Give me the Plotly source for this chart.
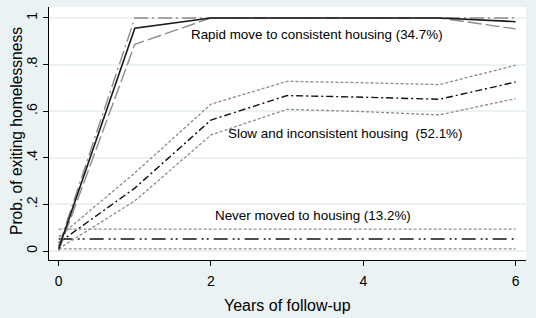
import plotly.graph_objects as go

years = [0, 1, 2, 3, 4, 5, 6]

rapid_mean = [0.01, 0.956, 1.0, 1.0, 1.0, 1.0, 0.984]
rapid_low = [0.0, 0.887, 1.0, 1.0, 1.0, 1.0, 0.953]
rapid_high = [0.02, 1.0, 1.0, 1.0, 1.0, 1.0, 1.0]

slow_mean = [0.035, 0.27, 0.562, 0.667, 0.66, 0.651, 0.725]
slow_low = [0.01, 0.215, 0.498, 0.608, 0.598, 0.584, 0.654]
slow_high = [0.06, 0.335, 0.63, 0.728, 0.722, 0.714, 0.797]

never_mean = [0.052] * 7
never_low = [0.009] * 7
never_high = [0.094] * 7

labels = ["Rapid move to consistent housing (34.7%)",
          "Slow and inconsistent housing  (52.1%)",
          "Never moved to housing (13.2%)"]
label_x = [1.71, 2.197, 2.026]
label_y = [0.927, 0.506, 0.1545]

x_ticks = [0, 2, 4, 6]
y_ticks = [0, 0.2, 0.4, 0.6, 0.8, 1]
y_ticktext = ["0", ".2", ".4", ".6", ".8", "1"]

x_title = "Years of follow-up"
y_title = "Prob. of exiting homelessness"

GRAY = "#8c8c8c"
fig = go.Figure()

def add(y, color, dash, width=1.3):
    fig.add_trace(go.Scatter(x=years, y=y, mode="lines",
                             line=dict(color=color, dash=dash, width=width),
                             showlegend=False, hoverinfo="skip"))

# Never
add(never_high, GRAY, "3px,2px")
add(never_low, GRAY, "3px,2px")
add(never_mean, "#111111", "14px,5px,2px,3px,2px,5px", 1.5)
# Slow
add(slow_high, GRAY, "3px,2px")
add(slow_low, GRAY, "3px,2px")
add(slow_mean, "#111111", "7px,3px,2px,3px", 1.4)
# Rapid
add(rapid_high, GRAY, "14px,4px,2px,4px", 1.4)
add(rapid_low, GRAY, "14px,4px", 1.4)
add(rapid_mean, "#1a1a1a", "solid", 1.6)

for t, x, y in zip(labels, label_x, label_y):
    fig.add_annotation(x=x, y=y, text=t, showarrow=False, xanchor="left",
                       yanchor="middle", font=dict(size=13.4, color="black",
                                                   family="Liberation Sans, Arial"))

# axis titles
fig.add_annotation(xref="paper", yref="paper", x=0.501, y=-0.178, text=x_title,
                   showarrow=False, xanchor="center", yanchor="middle",
                   font=dict(size=16, color="black"))
fig.add_annotation(xref="paper", yref="paper", x=-0.067, y=0.51, text=y_title,
                   textangle=-90, showarrow=False, xanchor="center", yanchor="middle",
                   font=dict(size=15.6, color="black"))

fig.update_layout(
    width=536, height=318,
    margin=dict(l=49, r=10, t=7, b=58, autoexpand=False),
    paper_bgcolor="#EAF2F3",
    plot_bgcolor="white",
    font=dict(family="Liberation Sans, Arial", color="black", size=13),
    showlegend=False,
)
fig.update_xaxes(range=[-0.127, 6.137], tickvals=x_ticks, ticks="outside",
                 ticklen=5, tickcolor="black", showgrid=False, zeroline=False,
                 showline=True, linecolor="black", linewidth=1, automargin=False,
                 tickfont=dict(size=14), ticklabelstandoff=3)
fig.update_yaxes(range=[-0.0386, 1.047], tickvals=y_ticks, ticktext=y_ticktext,
                 tickangle=-90, ticks="outside", ticklen=5, tickcolor="black",
                 showgrid=True, gridcolor="#EAF2F3", gridwidth=1.5, zeroline=False,
                 showline=True, linecolor="black", linewidth=1, automargin=False,
                 tickfont=dict(size=14))

fig.write_html("out.html", config={"displayModeBar": False},
               post_script="document.body.style.margin='0';document.body.style.padding='0';")
